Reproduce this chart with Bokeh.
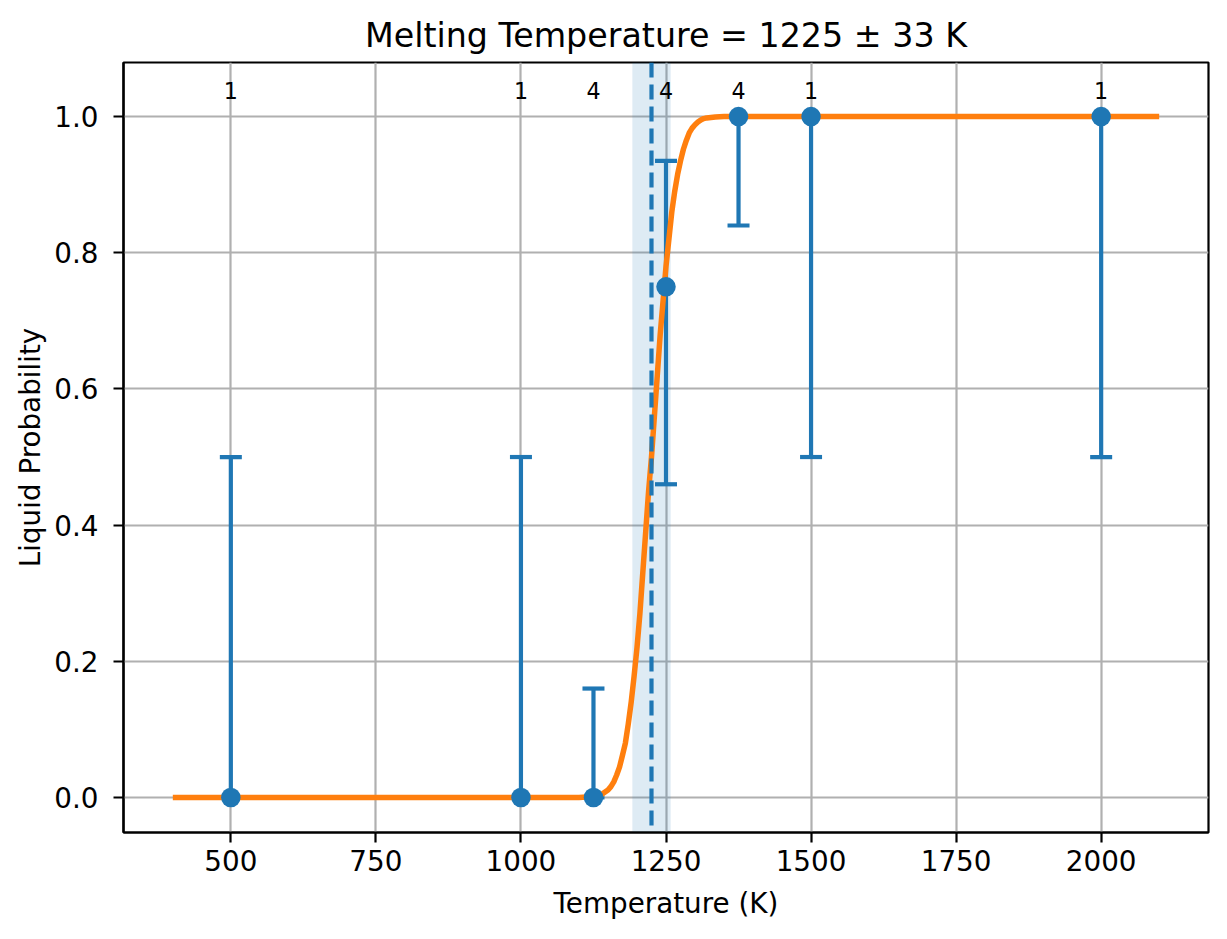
from bokeh.plotting import figure
from bokeh.models import Range1d, FixedTicker, Span, BoxAnnotation, ColumnDataSource
from bokeh.embed import file_html
from bokeh.resources import INLINE
from bokeh.core.properties import value

# ---- data ----
temps = [500, 1000, 1125, 1250, 1375, 1500, 2000]
liquid_prob = [0.0, 0.0, 0.0, 0.75, 1.0, 1.0, 1.0]
err_low = [0.0, 0.0, 0.0, 0.46, 0.84, 0.5, 0.5]
err_high = [0.5, 0.5, 0.16, 0.935, 1.0, 1.0, 1.0]
counts = [1, 1, 4, 4, 4, 1, 1]

fit_T = [400, 1100, 1120, 1130, 1140, 1145, 1150, 1155, 1160, 1165, 1170, 1175,
         1180, 1185, 1190, 1195, 1200, 1205, 1210, 1215, 1220, 1225, 1230, 1235,
         1240, 1245, 1250, 1255, 1260, 1265, 1270, 1275, 1280, 1285, 1290, 1295,
         1300, 1305, 1310, 1315, 1320, 1335, 1350, 2100]
fit_P = [0.0, 0.0, 0.001, 0.002, 0.005, 0.008, 0.011, 0.016, 0.023, 0.033, 0.045, 0.062,
         0.08, 0.108, 0.14, 0.178, 0.22, 0.27, 0.33, 0.39, 0.45, 0.5, 0.56, 0.62,
         0.68, 0.73, 0.78, 0.82, 0.86, 0.89, 0.915, 0.935, 0.952, 0.965, 0.976, 0.983,
         0.988, 0.992, 0.995, 0.997, 0.998, 0.9995, 1.0, 1.0]

melt_T = 1225
melt_err = 33

x_ticks = [500, 750, 1000, 1250, 1500, 1750, 2000]
y_ticks = [0.0, 0.2, 0.4, 0.6, 0.8, 1.0]
y_tick_labels = ["0.0", "0.2", "0.4", "0.6", "0.8", "1.0"]

FONT = "DejaVu Sans"
C0 = "#1f77b4"
C1 = "#ff7f0e"

p = figure(width=1211, height=923, output_backend="svg", toolbar_location=None,
           x_range=Range1d(315, 2185), y_range=Range1d(-0.0514, 1.0794),
           min_border_left=123, min_border_right=3, min_border_top=62,
           min_border_bottom=91,
           title=f"Melting Temperature = {melt_T} \u00b1 {melt_err} K")

p.background_fill_color = "white"
p.border_fill_color = "white"
p.outline_line_color = "black"
p.outline_line_width = 2.2

p.title.align = "center"
p.title.text_font = FONT
p.title.text_font_size = "33.3px"
p.title.text_font_style = "normal"
p.title.text_color = "black"
p.title.standoff = 16

for ax in (p.xaxis[0], p.yaxis[0]):
    ax.axis_line_width = 2.2
    ax.axis_line_color = "black"
    ax.major_tick_line_width = 2.2
    ax.major_tick_line_color = "black"
    ax.major_tick_out = 10
    ax.major_tick_in = 0
    ax.minor_tick_line_color = None
    ax.major_label_text_font = FONT
    ax.major_label_text_font_size = "27.8px"
    ax.major_label_text_color = "black"
    ax.axis_label_text_font = FONT
    ax.axis_label_text_font_size = "27.8px"
    ax.axis_label_text_font_style = "normal"
    ax.axis_label_text_color = "black"

p.xaxis.ticker = FixedTicker(ticks=x_ticks)
p.yaxis.ticker = FixedTicker(ticks=y_ticks)
p.yaxis.major_label_overrides = {t: s for t, s in zip(y_ticks, y_tick_labels)}
p.xaxis.axis_label = "Temperature (K)"
p.yaxis.axis_label = "Liquid Probability"
p.xaxis.major_label_standoff = 7
p.yaxis.major_label_standoff = 15
p.xaxis.axis_label_standoff = 13
p.yaxis.axis_label_standoff = 4

p.grid.grid_line_color = "#b0b0b0"
p.grid.grid_line_width = 2.2

# uncertainty band
band = BoxAnnotation(left=melt_T - melt_err, right=melt_T + melt_err,
                     fill_color=C0, fill_alpha=0.15, line_alpha=0, level="underlay")
p.add_layout(band)

src = ColumnDataSource(dict(T=temps, P=liquid_prob, lo=err_low, hi=err_high,
                            n=[str(c) for c in counts]))

# error bars
p.segment(x0="T", y0="lo", x1="T", y1="hi", source=src, line_color=C0, line_width=4.2)
p.scatter(x="T", y="hi", source=src, marker="dash", size=22, line_color=C0, line_width=4.2)
p.scatter(x="T", y="lo", source=src, marker="dash", size=22, line_color=C0, line_width=4.2)

# fitted curve
p.line(fit_T, fit_P, line_color=C1, line_width=5.5, line_join="round")

# melting temperature line
p.add_layout(Span(location=melt_T, dimension="height", line_color=C0,
                  line_width=4.2, line_dash="15 7"))

# points
p.scatter(x="T", y="P", source=src, marker="circle", size=19.5,
          fill_color=C0, line_color=C0, line_width=0)

# counts
p.text(x="T", y=1.026, text="n", source=src, text_font=value(FONT),
       text_font_size=value("22.2px"), text_align="center", text_baseline="bottom",
       text_color="black")

open("out.html", "w").write(file_html(p, INLINE))
